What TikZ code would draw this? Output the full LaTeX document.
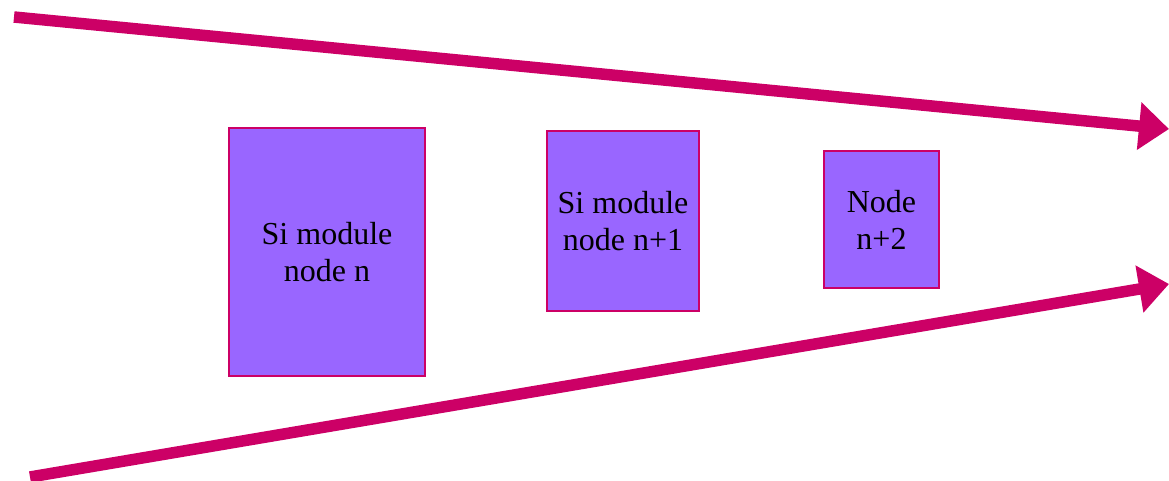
\documentclass[tikz,border=0pt]{standalone}
\usepackage{fontspec}
\setmainfont{Liberation Serif}
\usetikzlibrary{arrows.meta}
\definecolor{mag}{HTML}{CC0066}
\definecolor{violetfill}{HTML}{9966FF}
\begin{document}
\begin{tikzpicture}[x=1pt,y=-1pt,
  modbox/.style={draw=mag,line width=2.2pt,fill=violetfill,inner sep=0pt,align=center,
    font=\fontsize{32}{37}\selectfont},
  bigarrow/.style={draw=mag,line width=11.5pt,-{Triangle[length=30pt,width=46pt]}}]
\useasboundingbox (0,0) rectangle (1169,480);
\node[modbox,minimum width=196pt,minimum height=248pt] (n0) at (327,252) {Si module\\node n};
\node[modbox,minimum width=152pt,minimum height=180pt] (n1) at (623,221) {Si module\\node n+1};
\node[modbox,minimum width=115pt,minimum height=137pt] (n2) at (881.5,219.5) {Node\\n+2};
\coordinate (a1s) at (14,17);
\coordinate (a1e) at (1169,129);
\coordinate (a2s) at (30,477);
\coordinate (a2e) at (1169,284);
\draw[bigarrow] (a1s) -- (a1e);
\draw[bigarrow] (a2s) -- (a2e);
\end{tikzpicture}
\end{document}
